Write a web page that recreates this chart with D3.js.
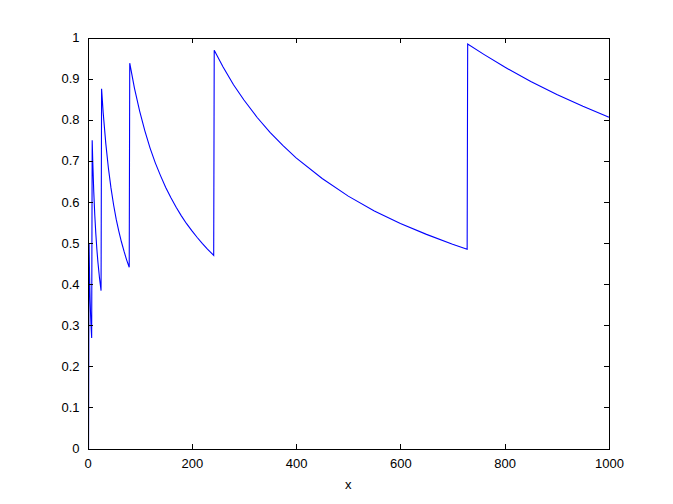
<!DOCTYPE html>
<html><head><meta charset="utf-8">
<script src="https://cdn.jsdelivr.net/npm/d3@7"></script>
<style>
html,body{margin:0;padding:0;background:#fff;}
svg{display:block;}
text{font-family:Arial,"Liberation Sans",Helvetica,sans-serif;font-size:13px;fill:#000;}
</style></head><body>
<script>
const xs = [1,2,3,4,5,6,7,8,
  9,10,12,14,16,18,20,23,26,
  27,30,35,40,45,50,55,60,65,70,75,80,
  81,90,100,110,120,130,140,150,160,170,180,190,200,210,220,230,242,
  243,260,280,300,325,350,375,400,450,500,550,600,650,700,728,
  729,760,800,850,900,950,1000];
const ys = [0,0,0.5,0.417,0.362,0.323,0.293,0.269,
  0.75,0.702,0.625,0.567,0.522,0.484,0.453,0.415,0.384,
  0.875,0.818,0.743,0.683,0.634,0.593,0.558,0.529,0.503,0.480,0.459,0.441,
  0.9375,0.877,0.821,0.773,0.731,0.695,0.664,0.635,0.610,0.587,0.566,0.547,0.530,0.514,0.499,0.485,0.470,
  0.969,0.928,0.885,0.848,0.806,0.769,0.737,0.707,0.657,0.614,0.578,0.5475,0.521,0.497,0.4846,
  0.984,0.959,0.928,0.893,0.8615,0.8326,0.806];
const xTicks = [0,200,400,600,800,1000];
const yTicks = [0,0.1,0.2,0.3,0.4,0.5,0.6,0.7,0.8,0.9,1];
const xLabel = "x";

const W = 673, H = 504;
const m = {left:87.5, right:673-609, top:37.5, bottom:504-448.5};
const svg = d3.select("body").append("svg").attr("width",W).attr("height",H);
const x = d3.scaleLinear().domain([0,1000]).range([m.left, W-m.right]);
const y = d3.scaleLinear().domain([0,1]).range([H-m.bottom, m.top]);

const data = xs.map((v,i)=>[v, ys[i]]);
svg.append("path").datum(data)
  .attr("fill","none").attr("stroke","#0000ff").attr("stroke-width",1.1)
  .attr("d", d3.line().x(d=>x(d[0])).y(d=>y(d[1])));

const tl = 5;
const gx = svg.append("g").attr("transform",`translate(0,${y(0)})`)
  .call(d3.axisBottom(x).tickValues(xTicks).tickSizeInner(-tl).tickSizeOuter(0).tickPadding(10).tickFormat(d3.format("d")));
const gxt = svg.append("g").attr("transform",`translate(0,${y(1)})`)
  .call(d3.axisTop(x).tickValues(xTicks).tickSizeInner(-tl).tickSizeOuter(0).tickFormat(""));
const gy = svg.append("g").attr("transform",`translate(${x(0)},0)`)
  .call(d3.axisLeft(y).tickValues(yTicks).tickSizeInner(-tl).tickSizeOuter(0).tickPadding(8).tickFormat(d=>String(+d.toFixed(1))));
const gyr = svg.append("g").attr("transform",`translate(${x(1000)},0)`)
  .call(d3.axisRight(y).tickValues(yTicks).tickSizeInner(-tl).tickSizeOuter(0).tickFormat(""));
[gx,gxt,gy,gyr].forEach(g=>{
  g.selectAll("path.domain").attr("stroke","#000").attr("shape-rendering","crispEdges");
  g.selectAll(".tick line").attr("stroke","#000").attr("shape-rendering","crispEdges");
  g.selectAll("text").attr("font-size",13.3).attr("font-family","Arial, 'Liberation Sans', sans-serif");
});
svg.append("text").attr("x",(x(0)+x(1000))/2).attr("y",489).attr("text-anchor","middle").attr("font-size",13.3).text(xLabel);
</script>
</body></html>
